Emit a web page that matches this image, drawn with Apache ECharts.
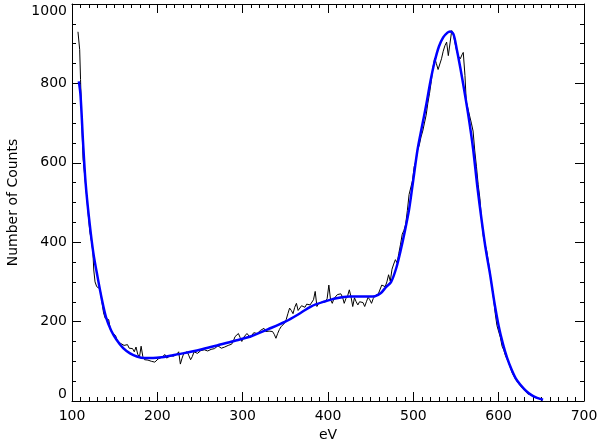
<!DOCTYPE html>
<html>
<head>
<meta charset="utf-8">
<script src="https://cdn.jsdelivr.net/npm/echarts@6/dist/echarts.min.js"></script>
<style>
html,body{margin:0;padding:0;background:#fff;}
#chart{width:603px;height:443px;}
</style>
</head>
<body>
<div id="chart"></div>
<script>
// Measured spectrum (black, noisy)
const rawEv = [107,109,110,111.5,113,115,117,119,121,123,124.5,125.5,127,129,131,133,135,137,139,141,143,145,147,149,151,153,155,157,159,161,163,165,167,169,171,173,175,177,179,181,183,185,187,189,191,193,195,197,199,201,203,205,207,209,211,213,215,217,219,221,223,225,227,229,231,233,235,237,239,241,243,245,247,249,251,253,255,257,259,261,263,265,267,269,271,273,275,277,279,281,283,285,287,289,291,293,295,297,299,301,303,305,307,309,311,313,315,317,319,321,323,325,327,329,331,333,335,337,339,341,343,345,347,349,351,353,355,357,359,361,363,365,367,369,371,373,375,377,379,381,383,385,387,389,391,393,395,397,399,401,403,405,407,409,411,413,415,417,419,421,423,425,427,429,431,433,435,437,439,441,443,445,447,449,451,453,455,457,459,461,463,465,467,469,471,473,475,477,479,481,483,485,487,489,491,493,495,497,499,501,503,505,507,509,511,513,515,517,519,521,523,525,527,529,531,533,535,537,539,541,543,545,547,549,551,553,555,557,558.5,560.5,562,564,566,568,570,572,574,576,578,580,582,584,586,588,590,592,594,596,598,600,602,604,606,608,610,612,614,616,618,620,622,624,626,628,630,632,634,636,638,640,642,644,646,648,650,652];
const rawCounts = [930,885,810,700,610,565,520,470,425,400,375,330,300,288,284,282,250,222,208,210,205,180,172,175,165,152,155,145,148,140,135,142,133,128,132,124,136,118,110,138,112,104,106,103,102,100,96,98,103,106,104,110,115,117,108,106,114,118,113,111,118,124,93,108,120,118,124,114,104,112,124,125,120,122,127,126,129,128,126,124,130,134,132,137,139,136,133,138,136,137,140,144,143,150,162,166,170,160,150,160,165,170,166,160,164,172,176,170,171,178,180,183,175,172,176,180,175,168,158,170,180,187,192,196,205,220,234,228,220,236,246,228,225,240,238,236,244,246,242,243,255,276,238,246,250,249,246,250,258,292,255,246,258,262,268,266,270,262,246,258,265,280,262,238,260,250,242,250,255,248,238,250,261,255,246,258,265,268,270,272,292,290,288,300,318,302,332,345,356,348,372,395,420,430,445,480,520,518,555,590,605,632,645,665,680,700,720,750,775,805,840,864,850,835,840,862,881,895,904,870,866,933,922,900,880,868,862,872,878,820,755,758,718,700,680,630,590,545,510,455,415,395,378,350,320,288,258,220,190,185,160,138,128,114,110,95,82,70,62,54,50,42,38,32,28,24,18,14,15,12,9,8,7,5,4,3];

// Fitted curve (blue)
const fitEv = [108,110,113,116,120,125,130,135,140,146,152,160,168,176,185,195,205,215,230,250,270,290,310,330,350,365,380,395,410,425,440,455,462,468,474,480,485,490,495,500,505,510,515,520,525,530,535,540,543,547,551,555,560,565,570,575,580,585,590,595,600,605,610,615,620,625,630,635,640,645,652];
const fitCounts = [805,770,650,548,460,373,312,256,210,177,155,133,120,112,108,108,110,114,120,129,140,151,163,181,200,218,238,250,259,263,263,264,272,287,300,335,378,427,482,558,634,690,745,805,855,893,916,928,931,924,885,840,778,712,636,540,456,380,318,248,189,144,108,80,57,42,30,20,13,8,3];

// Axis settings
const xMin = 100, xMax = 700, xStep = 100;
const yMin = 0, yMax = 1000, yStep = 200;
const xName = 'eV';
const yName = 'Number of Counts';

const zip = (a, b) => a.map((v, i) => [v, b[i]]);
const FONT = 'DejaVu Sans';
const black = '#000';

function xAx(pos, labels) {
  return {
    type: 'value', position: pos, min: xMin, max: xMax, interval: xStep,
    name: labels ? xName : '', nameLocation: 'middle', nameGap: 21,
    nameTextStyle: {color: black, fontFamily: FONT, fontSize: 14},
    axisLine: {show: true, onZero: false, lineStyle: {color: black, width: 1}},
    axisTick: {show: true, inside: true, length: 9, lineStyle: {color: black}},
    minorTick: {show: true, splitNumber: 10, length: 4, lineStyle: {color: black}},
    axisLabel: {show: labels, color: black, fontFamily: FONT, fontSize: 14, margin: 8,
      formatter: v => String(v)},
    splitLine: {show: false}
  };
}
function yAx(pos, labels) {
  return {
    type: 'value', position: pos, min: yMin, max: yMax, interval: yStep,
    name: labels ? yName : '', nameLocation: 'middle', nameGap: 50, nameRotate: 90,
    nameTextStyle: {color: black, fontFamily: FONT, fontSize: 14},
    axisLine: {show: true, onZero: false, lineStyle: {color: black, width: 1}},
    axisTick: {show: true, inside: true, length: 9, lineStyle: {color: black}},
    minorTick: {show: true, splitNumber: 4, length: 4, lineStyle: {color: black}},
    axisLabel: {show: labels, color: black, fontFamily: FONT, fontSize: 14, margin: 5,
      formatter: v => String(v),
      verticalAlignMinLabel: 'bottom', verticalAlignMaxLabel: 'top'},
    splitLine: {show: false}
  };
}

const chart = echarts.init(document.getElementById('chart'), null, {renderer: 'canvas'});
chart.setOption({
  animation: false,
  backgroundColor: '#fff',
  grid: {left: 72, right: 19, top: 4, bottom: 42, containLabel: false, outerBoundsMode: 'none'},
  xAxis: [xAx('bottom', true), xAx('top', false)],
  yAxis: [yAx('left', true), yAx('right', false)],
  series: [
    {type: 'line', data: zip(rawEv, rawCounts), showSymbol: false, symbol: 'none',
     lineStyle: {color: black, width: 1}, z: 2},
    {type: 'line', data: zip(fitEv, fitCounts), showSymbol: false, symbol: 'none', smooth: 0.3,
     lineStyle: {color: '#0000ff', width: 2.5}, z: 3}
  ]
});
</script>
</body>
</html>
